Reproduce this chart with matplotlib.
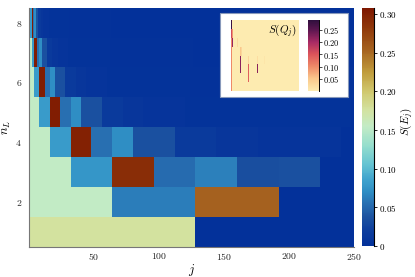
import numpy as np
import matplotlib
matplotlib.use("Agg")
import matplotlib.pyplot as plt
from matplotlib.colors import LinearSegmentedColormap
from matplotlib.patches import Rectangle

plt.rcParams['mathtext.fontset'] = 'cm'
plt.rcParams['font.family'] = ['DejaVu Serif']

# ---------------- data ----------------
n_levels = [1, 2, 3, 4, 5, 6, 7, 8]
j_max = 256

# main heatmap S(E_j): per level, blocks (j_start, j_end, value)
SE_blocks = {
    1: [(0, 128, 0.176)],
    2: [(0, 64, 0.155), (64, 128, 0.062), (128, 192, 0.255)],
    3: [(0, 32, 0.155), (32, 64, 0.076), (64, 96, 0.290), (96, 128, 0.052),
        (128, 160, 0.063), (160, 192, 0.034), (192, 224, 0.036)],
    4: [(0, 16, 0.155), (16, 32, 0.080), (32, 48, 0.300), (48, 64, 0.055),
        (64, 80, 0.070), (80, 112, 0.035), (112, 144, 0.014), (144, 176, 0.009),
        (176, 240, 0.005)],
    5: [(0, 8, 0.155), (8, 16, 0.080), (16, 24, 0.302), (24, 32, 0.055),
        (32, 40, 0.070), (40, 56, 0.035), (56, 72, 0.014), (72, 88, 0.009),
        (88, 120, 0.006), (120, 248, 0.003)],
    6: [(0, 4, 0.155), (4, 8, 0.080), (8, 12, 0.303), (12, 16, 0.055),
        (16, 20, 0.070), (20, 28, 0.035), (28, 36, 0.014), (36, 44, 0.009),
        (44, 60, 0.006), (60, 124, 0.003), (124, 252, 0.002)],
    7: [(0, 2, 0.155), (2, 4, 0.080), (4, 6, 0.304), (6, 8, 0.055),
        (8, 10, 0.070), (10, 14, 0.035), (14, 18, 0.014), (18, 22, 0.009),
        (22, 30, 0.006), (30, 62, 0.003), (62, 126, 0.002), (126, 254, 0.001)],
    8: [(0, 1, 0.155), (1, 2, 0.080), (2, 3, 0.305), (3, 4, 0.055),
        (4, 5, 0.070), (5, 7, 0.035), (7, 9, 0.014), (9, 11, 0.009),
        (11, 15, 0.006), (15, 31, 0.003), (31, 63, 0.002), (63, 127, 0.001),
        (127, 255, 0.001)],
}

# inset heatmap S(Q_j): per level, blocks (j_start, j_end, value)
SQ_blocks = {
    8: [(0, 4, 0.280)],
    7: [(0, 4, 0.160), (4, 8, 0.090)],
    6: [(0, 4, 0.100), (4, 8, 0.210), (24, 28, 0.025)],
    5: [(0, 4, 0.100), (32, 36, 0.050), (36, 40, 0.030)],
    4: [(0, 4, 0.100), (32, 36, 0.220), (64, 68, 0.030), (96, 100, 0.020),
        (124, 128, 0.010)],
    3: [(0, 4, 0.100), (32, 36, 0.220), (64, 68, 0.140), (96, 100, 0.220)],
    2: [(0, 4, 0.100), (64, 68, 0.140)],
    1: [(0, 4, 0.100)],
}
SQ_colwidth = 4

x_ticks = [50, 100, 150, 200, 250]
y_ticks = [2, 4, 6, 8]
cb_ticks = [0, 0.05, 0.10, 0.15, 0.20, 0.25, 0.30]
cb_labels = ['0', '0.05', '0.10', '0.15', '0.20', '0.25', '0.30']
icb_ticks = [0.05, 0.10, 0.15, 0.20, 0.25]
icb_labels = ['0.05', '0.10', '0.15', '0.20', '0.25']
SE_vmax = 0.308
SQ_vmax = 0.29

# ---------------- colormaps ----------------
roma_pts = [
    (0.000, (3, 49, 154)), (0.020, (14, 62, 157)), (0.037, (28, 82, 160)),
    (0.055, (40, 112, 178)), (0.070, (47, 142, 196)), (0.085, (62, 162, 205)),
    (0.105, (100, 195, 210)), (0.130, (150, 222, 205)), (0.155, (195, 235, 197)),
    (0.176, (211, 226, 160)), (0.200, (208, 200, 110)), (0.225, (192, 156, 60)),
    (0.255, (165, 97, 31)), (0.280, (145, 60, 12)), (0.308, (126, 23, 0)),
]
roma_r = LinearSegmentedColormap.from_list(
    'roma_r', [(v / SE_vmax, tuple(c / 255 for c in col)) for v, col in roma_pts])

matter_pts = [
    (0.00, (253, 235, 176)), (0.05, (250, 200, 140)), (0.10, (238, 138, 104)),
    (0.15, (220, 84, 90)), (0.20, (168, 42, 100)), (0.25, (92, 22, 80)),
    (0.29, (47, 15, 61)),
]
matter = LinearSegmentedColormap.from_list(
    'matter', [(v / SQ_vmax, tuple(c / 255 for c in col)) for v, col in matter_pts])

# ---------------- build arrays ----------------
Z = np.zeros((len(n_levels), j_max))
for n, blocks in SE_blocks.items():
    for j0, j1, v in blocks:
        Z[n - 1, j0:j1] = v

ncol = j_max // SQ_colwidth
ZQ = np.zeros((len(n_levels), ncol))
for n, blocks in SQ_blocks.items():
    for j0, j1, v in blocks:
        ZQ[n - 1, j0 // SQ_colwidth:j1 // SQ_colwidth] = v

# ---------------- figure ----------------
W, H = 415, 277
fig = plt.figure(figsize=(W / 100, H / 100), dpi=100)

def rect(x0, y0, x1, y1):
    return [x0 / W, 1 - y1 / H, (x1 - x0) / W, (y1 - y0) / H]

ax = fig.add_axes(rect(29, 7.8, 354, 246.5))
j_edges = np.arange(j_max + 1)
n_edges = np.arange(len(n_levels) + 1) + 0.5
mesh = ax.pcolormesh(j_edges, n_edges, Z, cmap=roma_r, vmin=0, vmax=SE_vmax)
ax.set_xlim(0, 250)
ax.set_ylim(0.5, 8.5)
ax.set_xticks(x_ticks)
ax.set_xticklabels([f'${t}$' for t in x_ticks])
ax.set_yticks(y_ticks)
ax.set_yticklabels([f'${t}$' for t in y_ticks])
ax.tick_params(length=0, labelsize=7, colors='#222222')
ax.tick_params(axis='x', pad=3)
ax.tick_params(axis='y', pad=5)
for s in ['top', 'right']:
    ax.spines[s].set_visible(False)
for s in ['left', 'bottom']:
    ax.spines[s].set_color('#777777')
    ax.spines[s].set_linewidth(0.8)
ax.set_xlabel('$j$', fontsize=9, labelpad=0)
ax.set_ylabel('$n_L$', fontsize=9, labelpad=2)

cax = fig.add_axes(rect(362, 8, 373.5, 246))
cb = fig.colorbar(mesh, cax=cax)
cb.outline.set_visible(False)
cb.set_ticks(cb_ticks)
cb.set_ticklabels([f'${t}$' for t in cb_labels])
cax.tick_params(length=2.5, width=0.6, labelsize=6.5, pad=1.2)
cax.plot([1, 1], [0, 1], transform=cax.transAxes, color='k', lw=0.8, clip_on=False)
fig.text(406.5 / W, 1 - 122 / H, '$S(E_j)$', rotation=90, ha='center', va='center',
         fontsize=8)

# inset white box
box = Rectangle((220 / W, 1 - 97 / H), 128 / W, 84 / H, transform=fig.transFigure,
                facecolor='white', edgecolor='#8899bb', linewidth=0.8, zorder=1)
fig.patches.append(box)

iax = fig.add_axes(rect(231, 20, 299, 91))
iax.set_zorder(2)
q_edges = np.arange(ncol + 1) * SQ_colwidth
qmesh = iax.pcolormesh(q_edges, n_edges, ZQ, cmap=matter, vmin=0, vmax=SQ_vmax)
iax.set_xlim(0, j_max)
iax.set_ylim(0.5, 8.5)
iax.set_xticks([])
iax.set_yticks([])
for s in iax.spines.values():
    s.set_visible(False)
iax.text(0.97, 0.97, '$S(Q_j)$', transform=iax.transAxes, ha='right', va='top',
         fontsize=8)

icax = fig.add_axes(rect(308, 20, 319, 91))
icax.set_zorder(2)
icb = fig.colorbar(qmesh, cax=icax)
icb.outline.set_visible(False)
icb.set_ticks(icb_ticks)
icb.set_ticklabels([f'${t}$' for t in icb_labels])
icax.tick_params(length=2, width=0.5, labelsize=6, pad=1)
icax.plot([1, 1], [0, 1], transform=icax.transAxes, color='k', lw=0.7, clip_on=False)

fig.savefig('out.png', dpi=100)
